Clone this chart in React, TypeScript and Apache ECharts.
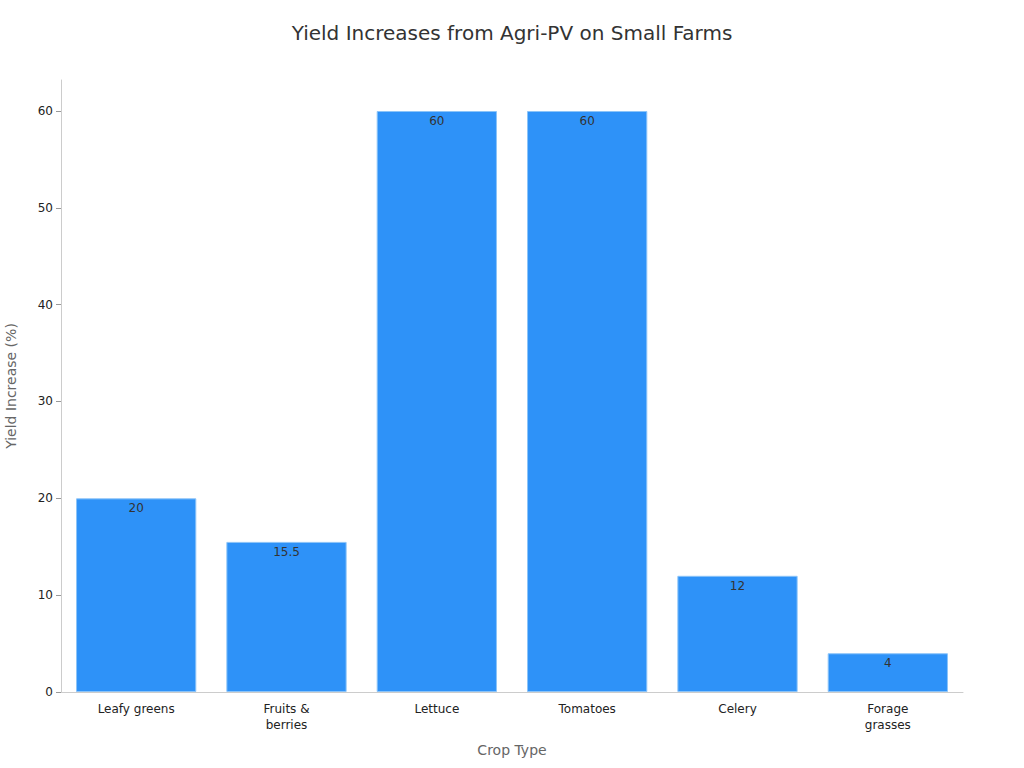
import { useEffect, useRef } from 'react';
import * as echarts from 'echarts';

// chart data
const categories = ['Leafy greens', 'Fruits &\nberries', 'Lettuce', 'Tomatoes', 'Celery', 'Forage\ngrasses'];
const yieldIncrease = [20, 15.5, 60, 60, 12, 4];
const yTicks = [0, 10, 20, 30, 40, 50, 60];

const FONT = 'DejaVu Sans, sans-serif';

export default function App() {
  const chartRef = useRef<HTMLDivElement>(null);

  useEffect(() => {
    document.body.style.margin = '0';
    if (!chartRef.current) return;
    const chart = echarts.init(chartRef.current, undefined, { renderer: 'svg' });

    const option: any = {
      animation: false,
      backgroundColor: '#ffffff',
      textStyle: { fontFamily: FONT },
      title: {
        text: 'Yield Increases from Agri-PV on Small Farms',
        left: 'center',
        top: 18,
        textStyle: { fontFamily: FONT, fontSize: 20, fontWeight: 'normal', color: '#333333' },
      },
      grid: { left: 61, right: 61, top: 80, bottom: 76, containLabel: false, outerBoundsMode: 'none' },
      xAxis: {
        type: 'category',
        data: categories,
        name: 'Crop Type',
        nameLocation: 'middle',
        nameGap: 51,
        nameTextStyle: { fontFamily: FONT, fontSize: 14, color: '#666666' },
        axisLine: { lineStyle: { color: '#cccccc' } },
        axisTick: { alignWithLabel: true, lineStyle: { color: '#999999' }, length: 5 },
        axisLabel: { fontFamily: FONT, fontSize: 12, color: '#222222', margin: 9, lineHeight: 16 },
      },
      yAxis: {
        type: 'value',
        min: 0,
        max: 63.2,
        interval: 10,
        name: 'Yield Increase (%)',
        nameLocation: 'middle',
        nameGap: 43,
        nameTextStyle: { fontFamily: FONT, fontSize: 14, color: '#666666' },
        axisLine: { show: true, lineStyle: { color: '#cccccc' } },
        axisTick: { show: true, customValues: yTicks, lineStyle: { color: '#999999' }, length: 5 },
        axisLabel: {
          fontFamily: FONT,
          fontSize: 12,
          color: '#222222',
          margin: 8,
          customValues: yTicks,
        },
        splitLine: { show: false },
      },
      series: [
        {
          type: 'bar',
          data: yieldIncrease,
          barCategoryGap: '20%',
          itemStyle: { color: '#2e92f8', borderColor: '#8cc4f8', borderWidth: 1 },
          label: {
            show: true,
            position: 'insideTop',
            distance: 4,
            fontFamily: FONT,
            fontSize: 12,
            color: '#333333',
          },
        },
      ],
    };

    chart.setOption(option);
    return () => chart.dispose();
  }, []);

  return <div ref={chartRef} style={{ width: 1024, height: 768 }} />;
}
